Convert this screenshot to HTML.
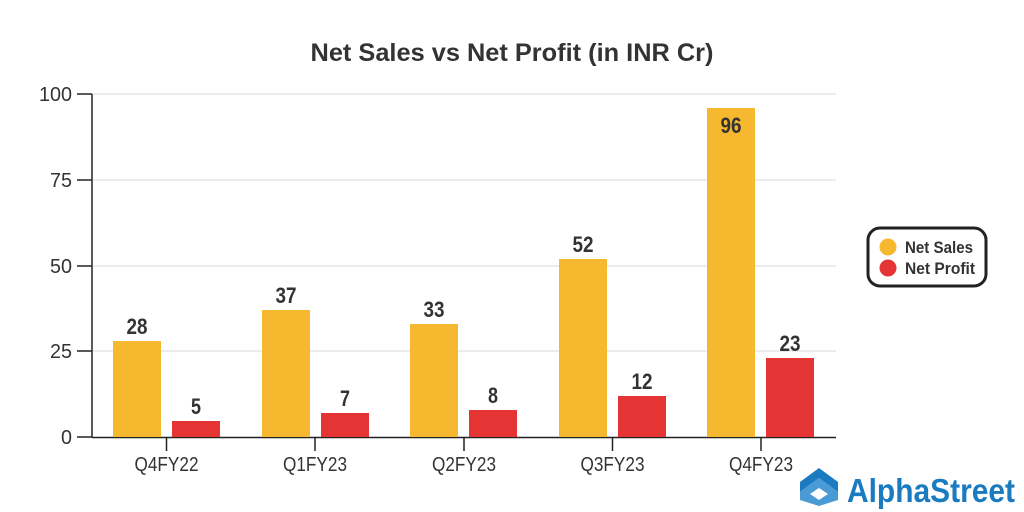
<!DOCTYPE html>
<html><head><meta charset="utf-8"><style>
html,body{margin:0;padding:0;background:#fff;width:1024px;height:512px;overflow:hidden}
text{font-family:"Liberation Sans",sans-serif}
</style></head><body>
<svg width="1024" height="512" viewBox="0 0 1024 512" xmlns="http://www.w3.org/2000/svg">
<text x="512" y="61" text-anchor="middle" font-size="25" font-weight="bold" fill="#333" textLength="403" lengthAdjust="spacingAndGlyphs">Net Sales vs Net Profit (in INR Cr)</text>
<g stroke="#e6e6e6" stroke-width="1.5">
<line x1="93" y1="94" x2="836" y2="94"/><line x1="93" y1="180" x2="836" y2="180"/>
<line x1="93" y1="266" x2="836" y2="266"/><line x1="93" y1="351" x2="836" y2="351"/>
</g>
<g stroke="#222" stroke-width="1.5">
<line x1="92" y1="94" x2="92" y2="437"/><line x1="92" y1="437.5" x2="836" y2="437.5"/>
<line x1="77" y1="94" x2="92" y2="94"/><line x1="77" y1="180" x2="92" y2="180"/>
<line x1="77" y1="266" x2="92" y2="266"/><line x1="77" y1="351" x2="92" y2="351"/>
<line x1="77" y1="437" x2="92" y2="437"/>
<line x1="166.5" y1="437" x2="166.5" y2="451"/><line x1="315" y1="437" x2="315" y2="451"/>
<line x1="464" y1="437" x2="464" y2="451"/><line x1="612.5" y1="437" x2="612.5" y2="451"/>
<line x1="761" y1="437" x2="761" y2="451"/>
</g>
<g font-size="20" fill="#333" text-anchor="end">
<text x="72" y="101" textLength="33" lengthAdjust="spacingAndGlyphs">100</text><text x="72" y="187" textLength="22" lengthAdjust="spacingAndGlyphs">75</text><text x="72" y="273" textLength="22" lengthAdjust="spacingAndGlyphs">50</text>
<text x="72" y="358" textLength="22" lengthAdjust="spacingAndGlyphs">25</text><text x="72" y="444" textLength="11" lengthAdjust="spacingAndGlyphs">0</text>
</g>
<g font-size="20" fill="#333" text-anchor="middle">
<text x="166.5" y="471" textLength="64" lengthAdjust="spacingAndGlyphs">Q4FY22</text><text x="315" y="471" textLength="64" lengthAdjust="spacingAndGlyphs">Q1FY23</text><text x="464" y="471" textLength="64" lengthAdjust="spacingAndGlyphs">Q2FY23</text>
<text x="612.5" y="471" textLength="64" lengthAdjust="spacingAndGlyphs">Q3FY23</text><text x="761" y="471" textLength="64" lengthAdjust="spacingAndGlyphs">Q4FY23</text>
</g>
<g fill="#f5b82e">
<rect x="113" y="341" width="48" height="96"/>
<rect x="262" y="310" width="48" height="127"/>
<rect x="410" y="324" width="48" height="113"/>
<rect x="559" y="259" width="48" height="178"/>
<rect x="707" y="108" width="48" height="329"/>
</g>
<g fill="#e53434">
<rect x="172" y="421" width="48" height="16"/>
<rect x="321" y="413" width="48" height="24"/>
<rect x="469" y="410" width="48" height="27"/>
<rect x="618" y="396" width="48" height="41"/>
<rect x="766" y="358" width="48" height="79"/>
</g>
<g font-size="22" font-weight="bold" fill="#333" text-anchor="middle">
<text x="137" y="334" textLength="21" lengthAdjust="spacingAndGlyphs">28</text><text x="196" y="414" textLength="10" lengthAdjust="spacingAndGlyphs">5</text>
<text x="286" y="303" textLength="21" lengthAdjust="spacingAndGlyphs">37</text><text x="345" y="406" textLength="10" lengthAdjust="spacingAndGlyphs">7</text>
<text x="434" y="317" textLength="21" lengthAdjust="spacingAndGlyphs">33</text><text x="493" y="403" textLength="10" lengthAdjust="spacingAndGlyphs">8</text>
<text x="583" y="252" textLength="21" lengthAdjust="spacingAndGlyphs">52</text><text x="642" y="389" textLength="21" lengthAdjust="spacingAndGlyphs">12</text>
<text x="731" y="133" textLength="21" lengthAdjust="spacingAndGlyphs">96</text><text x="790" y="351" textLength="21" lengthAdjust="spacingAndGlyphs">23</text>
</g>
<rect x="868" y="228" width="118" height="58" rx="12" fill="#fff" stroke="#222" stroke-width="3"/>
<circle cx="888" cy="247" r="8.5" fill="#f5b82e"/><circle cx="888" cy="268" r="8.5" fill="#e53434"/>
<g font-size="17" font-weight="bold" fill="#333">
<text x="905" y="253" textLength="68" lengthAdjust="spacingAndGlyphs">Net Sales</text><text x="905" y="274" textLength="70" lengthAdjust="spacingAndGlyphs">Net Profit</text>
</g>
<g>
<polygon points="819,468 838,482 838,492 819,478 800,492 800,482" fill="#1a7bc1"/>
<polygon points="800,492 819,478 838,492 838,500 819,506 800,500" fill="#4a9ad6"/>
<polygon points="810,494 819,488 828,494 819,500" fill="#fff"/>
</g>
<text x="847" y="502" font-size="33" font-weight="bold" fill="#1a7bc1" textLength="168" lengthAdjust="spacingAndGlyphs">AlphaStreet</text>
</svg>
</body></html>
